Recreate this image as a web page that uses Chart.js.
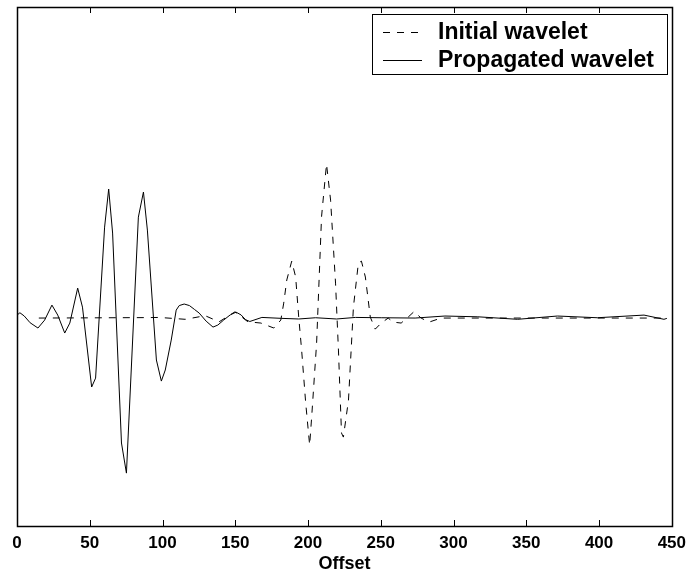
<!DOCTYPE html>
<html>
<head>
<meta charset="utf-8">
<script src="https://cdn.jsdelivr.net/npm/chart.js@4.4.0/dist/chart.umd.min.js"></script>
<style>
  html, body { margin: 0; padding: 0; background: #fff; }
  #wrap { width: 693px; height: 573px; }
</style>
</head>
<body>
<div id="wrap"><canvas id="chart"></canvas></div>
<script>
// --- data ---
const xTicks = [0, 50, 100, 150, 200, 250, 300, 350, 400, 450];

const initialOffset = [15, 91, 97.8, 115.6, 129.3, 138.9, 149.8, 158.7, 167.6, 176.5,
  181.3, 183.3, 185.4, 188.8, 191.5, 193.6, 195.6, 198.4, 201.1, 202.5,
  205.9, 209.3, 212.7, 215.5, 218.9, 220.9, 223, 224.3, 227.8, 231.2,
  234.6, 236.7, 239.4, 242.8, 246.2, 250.3, 255.1, 258.5, 264, 268.8,
  272.9, 277.7, 283.2, 291.4, 446.6];
const initialValue = [0, 0.003, 0.004, -0.008, 0.015, -0.024, 0.04, -0.024, -0.032, -0.064,
  -0.013, 0.096, 0.244, 0.365, 0.263, 0.006, -0.205, -0.545, -0.814, -0.635,
  -0.16, 0.651, 0.987, 0.756, 0.224, -0.205, -0.737, -0.763, -0.526, 0.071,
  0.353, 0.365, 0.263, 0.006, -0.071, -0.032, 0, -0.026, -0.032, 0.006,
  0.042, 0, -0.026, 0, 0];

const propagatedOffset = [0, 2, 5, 9, 14.4, 19, 24, 28, 32.8, 36.3,
  41.7, 45, 51.3, 54, 60.2, 63, 65.7, 71.8, 75.2, 83.4,
  86.9, 89.6, 95.8, 99.2, 101.9, 106, 109.4, 111.5, 114.9, 118.5,
  122, 125.2, 130, 134.7, 138, 142, 146.5, 150.5, 154, 157,
  160, 168.3, 181.9, 193.6, 205.2, 219.6, 232.6, 250.3, 273.6, 294.1,
  316.7, 344, 371.4, 398.8, 430.9, 444.6, 446.6];
const propagatedValue = [0.019, 0.034, 0.013, -0.03, -0.064, -0.013, 0.083, 0.019, -0.096, -0.032,
  0.192, 0.07, -0.442, -0.385, 0.583, 0.827, 0.545, -0.801, -0.994, 0.647,
  0.808, 0.564, -0.269, -0.404, -0.333, -0.141, 0.051, 0.08, 0.09, 0.08,
  0.055, 0.032, -0.02, -0.058, -0.045, -0.013, 0.02, 0.038, 0.02, -0.01,
  -0.022, 0.004, -0.002, -0.006, 0.002, -0.006, 0.004, 0.002, 0, 0.013,
  0.008, -0.008, 0.013, 0.002, 0.019, -0.008, -0.002];

const seriesLabels = ["Initial wavelet", "Propagated wavelet"];

const FONT = "'Liberation Sans', Arial, Helvetica, sans-serif";

function toPoints(xs, ys) {
  return xs.map((x, i) => ({ x: x, y: ys[i] }));
}

// box, inward ticks and legend, drawn like the matlab figure
const boxPlugin = {
  id: 'boxPlugin',
  afterDatasetsDraw(chart) {
    const ctx = chart.ctx;
    const a = chart.chartArea;
    const xs = chart.scales.x;
    ctx.save();
    ctx.strokeStyle = '#000';
    ctx.lineWidth = 1;
    ctx.beginPath();
    xTicks.forEach(t => {
      const px = Math.round(xs.getPixelForValue(t)) + 0.5;
      ctx.moveTo(px, a.bottom);
      ctx.lineTo(px, a.bottom - 6);
      ctx.moveTo(px, a.top);
      ctx.lineTo(px, a.top + 6);
    });
    ctx.stroke();
    ctx.lineWidth = 1.5;
    ctx.strokeRect(Math.round(a.left) + 0.5, Math.round(a.top) + 0.5,
      Math.round(a.right - a.left), Math.round(a.bottom - a.top));

    // legend
    const lx = 372, ly = 14, lw = 295, lh = 60;
    ctx.fillStyle = '#fff';
    ctx.fillRect(lx, ly, lw, lh);
    ctx.lineWidth = 1;
    ctx.strokeRect(lx + 0.5, ly + 0.5, lw, lh);
    const rows = [32, 60];
    chart.data.datasets.forEach((ds, i) => {
      ctx.strokeStyle = '#000';
      ctx.lineWidth = 1;
      ctx.setLineDash(ds.borderDash || []);
      ctx.beginPath();
      ctx.moveTo(383, rows[i] + 0.5);
      ctx.lineTo(422, rows[i] + 0.5);
      ctx.stroke();
      ctx.setLineDash([]);
      ctx.fillStyle = '#000';
      ctx.font = "bold 23px " + FONT;
      ctx.textAlign = 'left';
      ctx.textBaseline = 'middle';
      ctx.fillText(ds.label, 438, rows[i] + 1);
    });
    ctx.restore();
  }
};

new Chart(document.getElementById('chart'), {
  type: 'line',
  data: {
    datasets: [
      {
        label: seriesLabels[0],
        data: toPoints(initialOffset, initialValue),
        borderColor: '#000',
        borderWidth: 1,
        borderDash: [7, 7],
        pointRadius: 0,
        tension: 0,
        fill: false
      },
      {
        label: seriesLabels[1],
        data: toPoints(propagatedOffset, propagatedValue),
        borderColor: '#000',
        borderWidth: 1,
        pointRadius: 0,
        tension: 0,
        fill: false
      }
    ]
  },
  options: {
    responsive: true,
    maintainAspectRatio: false,
    animation: false,
    layout: { padding: { left: 17, right: 18, top: 7, bottom: 0 } },
    plugins: {
      legend: { display: false },
      tooltip: { enabled: false }
    },
    scales: {
      x: {
        type: 'linear',
        min: 0,
        max: 450,
        afterBuildTicks: s => { s.ticks = xTicks.map(v => ({ value: v })); },
        afterFit: s => { s.height = 47; },
        grid: { display: false, drawTicks: false },
        border: { display: false },
        ticks: {
          color: '#000',
          padding: 7,
          maxRotation: 0,
          font: { family: FONT, size: 17, weight: 'bold' }
        },
        title: {
          display: true,
          text: 'Offset',
          color: '#000',
          padding: { top: 0, bottom: -2 },
          font: { family: FONT, size: 18, weight: 'bold' }
        }
      },
      y: {
        display: false,
        min: -1.333,
        max: 1.994
      }
    }
  },
  plugins: [boxPlugin]
});
</script>
</body>
</html>
